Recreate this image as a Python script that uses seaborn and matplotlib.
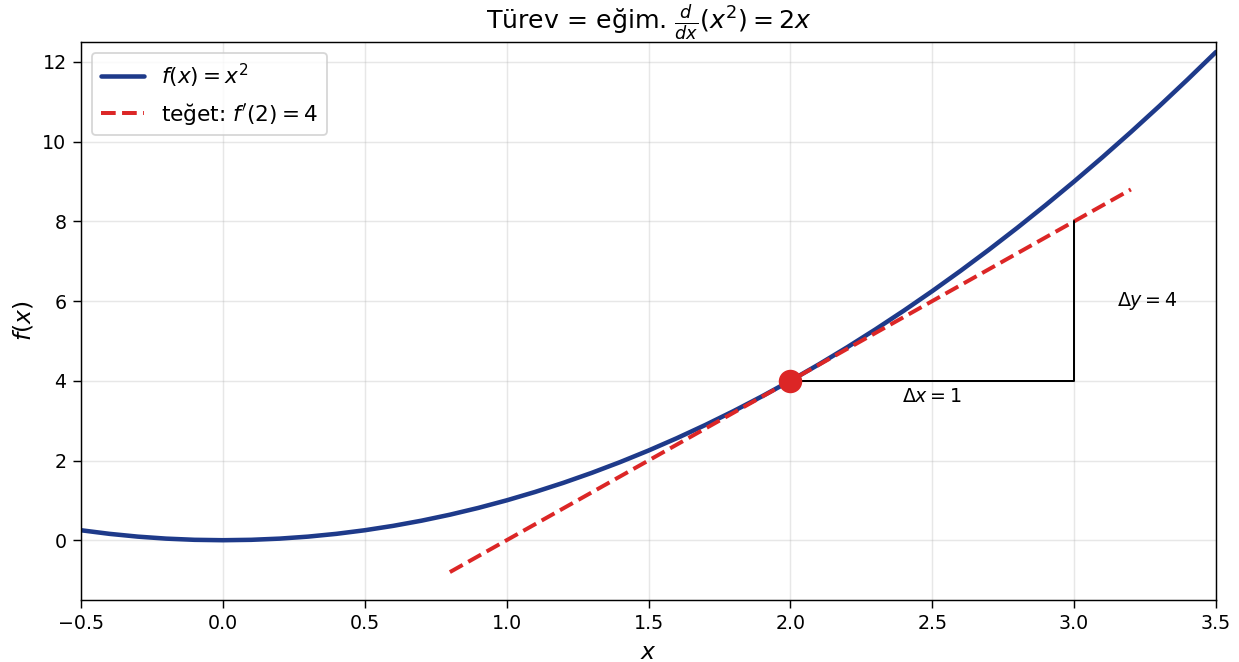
import numpy as np
import pandas as pd
import matplotlib
matplotlib.use("Agg")
import matplotlib.pyplot as plt
import seaborn as sns

# curve f(x) = x^2
curve_x = [-0.5, -0.4, -0.3, -0.2, -0.1, 0.0, 0.1, 0.2, 0.3, 0.4, 0.5,
           0.6, 0.7, 0.8, 0.9, 1.0, 1.1, 1.2, 1.3, 1.4, 1.5, 1.6, 1.7,
           1.8, 1.9, 2.0, 2.1, 2.2, 2.3, 2.4, 2.5, 2.6, 2.7, 2.8, 2.9,
           3.0, 3.1, 3.2, 3.3, 3.4, 3.5]
curve_y = [0.25, 0.16, 0.09, 0.04, 0.01, 0.0, 0.01, 0.04, 0.09, 0.16, 0.25,
           0.36, 0.49, 0.64, 0.81, 1.0, 1.21, 1.44, 1.69, 1.96, 2.25, 2.56,
           2.89, 3.24, 3.61, 4.0, 4.41, 4.84, 5.29, 5.76, 6.25, 6.76, 7.29,
           7.84, 8.41, 9.0, 9.61, 10.24, 10.89, 11.56, 12.25]

# tangent line at x=2
tangent_x = [0.8, 3.2]
tangent_y = [-0.8, 8.8]

point_x = [2.0]
point_y = [4.0]

# slope triangle
tri_x = [2.0, 3.0, 3.0]
tri_y = [4.0, 4.0, 8.0]

blue = "#1e3a8a"
red = "#dc2626"

sns.set_style("ticks")
plt.rcParams['font.family'] = ['DejaVu Sans']
plt.rcParams.update({'text.color': 'black', 'axes.labelcolor': 'black',
                     'xtick.color': 'black', 'ytick.color': 'black',
                     'axes.edgecolor': 'black'})

fig, ax = plt.subplots(figsize=(1239 / 130, 662 / 130), dpi=130)

curve = pd.DataFrame({"x": curve_x, "y": curve_y})
tangent = pd.DataFrame({"x": tangent_x, "y": tangent_y})

sns.lineplot(data=curve, x="x", y="y", ax=ax, color=blue, linewidth=2.5,
             label=r"$f(x) = x^2$", sort=False)
sns.lineplot(data=tangent, x="x", y="y", ax=ax, color=red, linewidth=2.2,
             linestyle="--", label=r"teğet: $f'(2) = 4$", sort=False)
ax.plot(point_x, point_y, "o", color=red, markersize=12, zorder=5)
ax.plot(tri_x, tri_y, color="black", linewidth=1.1)

ax.text(2.5, 3.6, r"$\Delta x = 1$", ha="center", va="center", fontsize=10.5)
ax.text(3.15, 6.0, r"$\Delta y = 4$", ha="left", va="center", fontsize=10.5)

ax.set_xlim(-0.5, 3.5)
ax.set_ylim(-1.5, 12.5)
ax.grid(True, alpha=0.3, color="#b0b0b0")
ax.tick_params(direction="out", length=4.5, labelsize=10.5)

ax.set_xlabel(r"$x$", fontsize=13)
ax.set_ylabel(r"$f(x)$", fontsize=13)
ax.set_title(r"Türev = eğim. $\frac{d}{dx}(x^2) = 2x$", fontsize=14)
ax.legend(loc="upper left", fontsize=12)

fig.subplots_adjust(left=81 / 1239, right=1216 / 1239,
                    top=1 - 42 / 662, bottom=1 - 600 / 662)
plt.savefig("out.png", dpi=130)
